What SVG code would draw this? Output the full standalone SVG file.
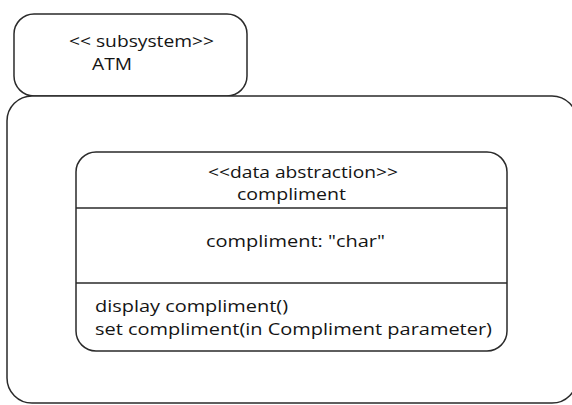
<svg xmlns="http://www.w3.org/2000/svg" width="572" height="405" viewBox="0 0 572 405">
  <style>
    .box { fill: #ffffff; stroke: #2a2a2a; stroke-width: 1.5; }
    .div { stroke: #2a2a2a; stroke-width: 1.5; }
    text { font-family: "Open Sans", "Liberation Sans", sans-serif; font-size: 16px; fill: #141414; }
  </style>
  <rect width="572" height="405" fill="#ffffff"/>
  <g id="subsystem-tab">
    <rect class="box" x="14" y="14" width="233" height="82" rx="20" ry="20"/>
    <text x="69" y="47" textLength="145" lengthAdjust="spacingAndGlyphs">&lt;&lt; subsystem&gt;&gt;</text>
    <text x="92" y="70" textLength="40" lengthAdjust="spacingAndGlyphs">ATM</text>
  </g>
  <g id="subsystem-body">
    <rect class="box" x="7" y="96" width="570" height="307" rx="25" ry="25"/>
  </g>
  <g id="compliment-class">
    <rect class="box" x="76" y="152" width="431" height="199" rx="20" ry="20"/>
    <line class="div" x1="76" y1="208" x2="507" y2="208"/>
    <line class="div" x1="76" y1="283" x2="507" y2="283"/>
    <text x="208" y="178" textLength="190" lengthAdjust="spacingAndGlyphs">&lt;&lt;data abstraction&gt;&gt;</text>
    <text x="237" y="200" textLength="109" lengthAdjust="spacingAndGlyphs">compliment</text>
    <text x="206" y="246.5" textLength="179" lengthAdjust="spacingAndGlyphs">compliment: "char"</text>
    <text x="95" y="312" textLength="193" lengthAdjust="spacingAndGlyphs">display compliment()</text>
    <text x="95" y="335" textLength="397" lengthAdjust="spacingAndGlyphs">set compliment(in Compliment parameter)</text>
  </g>
</svg>
